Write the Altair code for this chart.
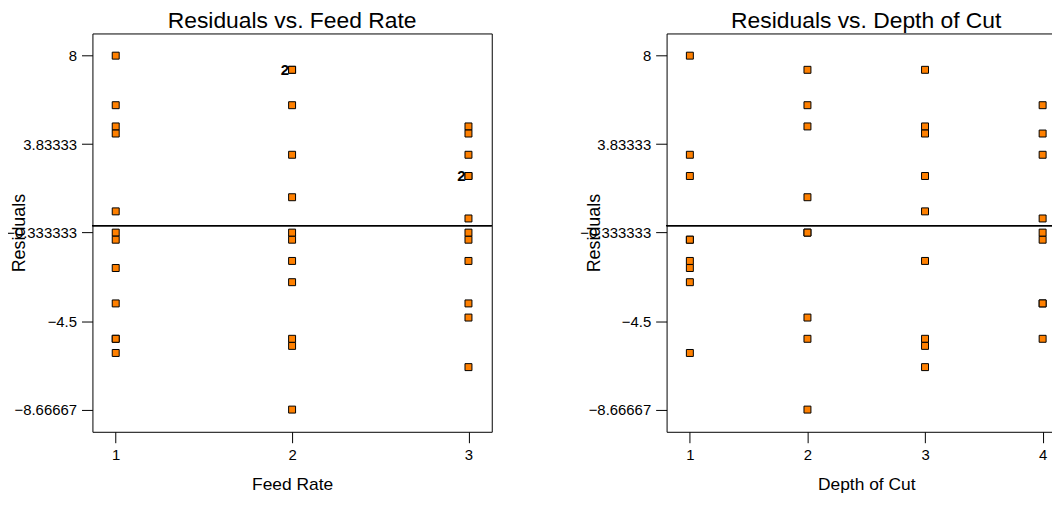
import altair as alt
import pandas as pd

# ---- data ----
feed_rate = [1] * 12 + [2] * 12 + [3] * 12
depth_of_cut = [1, 1, 1, 2, 2, 2, 3, 3, 3, 4, 4, 4] * 3
residuals = [
    8, -2, -6, 5.667, -5.333, -0.333, -5.333, 0.667, 4.667, -0.667, 4.333, -3.667,
    3.333, -2.667, -0.667, 1.333, 7.333, -8.667, -1.667, 7.333, -5.667, -0.333, 5.667, -5.333,
    -0.667, -1.667, 2.333, 4.667, -0.333, -4.333, 2.333, 4.333, -6.667, 3.333, 0.333, -3.667,
]
# duplicate-count labels shown on the Feed Rate panel
dup_x = [2, 3]
dup_y = [7.333, 2.333]
dup_text = ["2", "2"]

y_ticks = [8, 3.83333, -0.333333, -4.5, -8.66667]
feed_ticks = [1, 2, 3]
depth_ticks = [1, 2, 3, 4]

df = pd.DataFrame({"Feed": feed_rate, "Depth": depth_of_cut, "Residual": residuals})
dup_df = pd.DataFrame({"Feed": dup_x, "Residual": dup_y, "label": dup_text})

FONT = "Liberation Sans"
W, H = 402, 401
y_scale = alt.Scale(domain=[-9.712, 9.045], nice=False, zero=False)


def y_enc():
    return alt.Y(
        "Residual:Q",
        scale=y_scale,
        axis=alt.Axis(
            values=y_ticks,
            format=".6~g",
            title="Residuals",
            titleFontSize=18,
            titleX=-68,
            titleBaseline="alphabetic",
        ),
    )


def panel(field, xtitle, xdomain, xticks, title, labels=False):
    x = alt.X(
        f"{field}:Q",
        scale=alt.Scale(domain=xdomain, nice=False, zero=False),
        axis=alt.Axis(values=xticks, format="d", title=xtitle, titleFontSize=17.5,
                      titleY=58, titleBaseline="alphabetic"),
    )
    pts = alt.Chart(df).mark_square(
        size=49, filled=True, fill="#FF8000", stroke="#000000", strokeWidth=1, opacity=1
    ).encode(x=x, y=y_enc())
    rule = alt.Chart(df).mark_rule(color="#000000", strokeWidth=1).encode(y=alt.datum(0))
    layers = [rule, pts]
    if labels:
        txt = alt.Chart(dup_df).mark_text(
            align="right", baseline="middle", dx=-3, fontSize=15, fontWeight="bold",
            font=FONT, color="#000000"
        ).encode(x=alt.X(f"{field}:Q"), y=alt.Y("Residual:Q"), text="label:N")
        layers.append(txt)
    return alt.layer(*layers).properties(
        width=W,
        height=H,
        title=alt.TitleParams(title, fontSize=23, font=FONT, fontWeight="normal",
                              color="#000000", baseline="alphabetic", offset=6, dy=23.5),
    )


left = panel("Feed", "Feed Rate", [0.868, 3.132], feed_ticks, "Residuals vs. Feed Rate", True)
right = panel("Depth", "Depth of Cut", [0.802, 4.198], depth_ticks, "Residuals vs. Depth of Cut")

chart = alt.hconcat(left, right, spacing=176, bounds="flush").properties(
    padding={"left": -3, "top": 0, "right": -15, "bottom": 0},
    background="white",
).configure_view(
    stroke="#000000", strokeWidth=1
).configure_axis(
    domain=False, grid=False, tickColor="#000000", tickSize=11, labelPadding=5,
    labelFontSize=15, labelFont=FONT, labelColor="#000000",
    titleFont=FONT, titleFontWeight="normal", titleColor="#000000",
)

chart.save("out.html", embed_options={"renderer": "svg", "actions": False})
